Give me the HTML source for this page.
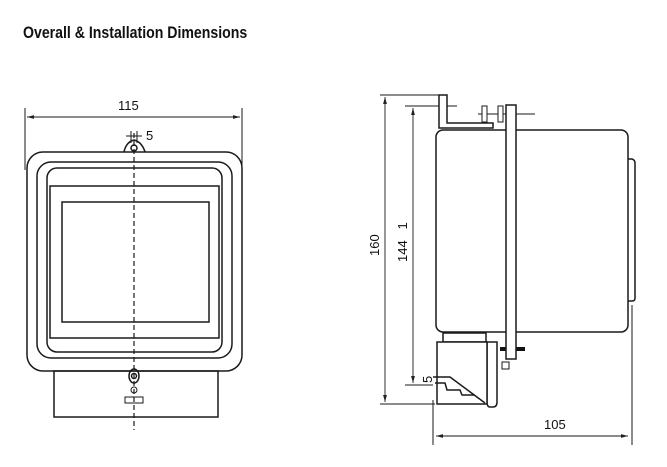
<!DOCTYPE html>
<html><head><meta charset="utf-8"><style>
html,body{margin:0;padding:0;background:#fff;width:667px;height:467px;overflow:hidden}
.t{position:absolute;left:23px;top:23px;font:bold 17px "Liberation Sans",sans-serif;color:#111;transform:scaleX(0.83);transform-origin:0 0;white-space:nowrap}
svg{position:absolute;left:0;top:0}
text{font-family:"Liberation Sans",sans-serif;font-size:13px;fill:#111;stroke:none;white-space:pre}
</style></head><body>
<div class="t">Overall &amp; Installation Dimensions</div>
<svg width="667" height="467" viewBox="0 0 667 467" fill="none" stroke="#1a1a1a" stroke-width="1.5">
<defs><marker id="a" markerWidth="8" markerHeight="6" refX="8" refY="3" orient="auto-start-reverse"><path d="M0,0.8 L8,3 L0,5.2" fill="#222" stroke="none"/></marker></defs>
<!-- front view -->
<line x1="25" y1="108" x2="25" y2="170" stroke-width="1"/>
<line x1="242" y1="108" x2="242" y2="170" stroke-width="1"/>
<line x1="27" y1="117" x2="240" y2="117" stroke-width="0.9" marker-start="url(#a)" marker-end="url(#a)"/>
<text x="118" y="110">115</text>
<path d="M124,152 Q126,142 134,140 Q142,142 145,152" fill="#fff"/>
<circle cx="134" cy="148" r="3"/>
<line x1="126" y1="136" x2="142" y2="136" stroke-width="1"/>
<line x1="131" y1="131" x2="131" y2="143" stroke-width="1"/>
<line x1="137" y1="131" x2="137" y2="143" stroke-width="1"/>
<text x="146" y="140">5</text>
<rect x="27" y="152" width="215" height="219" rx="16" fill="#fff"/>
<rect x="37" y="162" width="195" height="196" rx="14"/>
<rect x="47" y="168" width="175" height="184" rx="10"/>
<rect x="50" y="186" width="169" height="152"/>
<rect x="62" y="202" width="147" height="120"/>
<rect x="54" y="371" width="164" height="46"/>
<ellipse cx="134" cy="376" rx="5" ry="7"/>
<circle cx="134" cy="376" r="2.5"/>
<circle cx="134" cy="390" r="3" stroke-width="1"/>
<rect x="125" y="397" width="18" height="6" stroke-width="1"/>
<line x1="134" y1="133" x2="134" y2="430" stroke-dasharray="5,3" stroke-width="1.2"/>
<!-- side view -->
<line x1="380" y1="95" x2="440" y2="95" stroke-width="1"/>
<line x1="380" y1="404" x2="435" y2="404" stroke-width="1"/>
<line x1="385" y1="97" x2="385" y2="402" stroke-width="0.9" marker-start="url(#a)" marker-end="url(#a)"/>
<line x1="405" y1="106" x2="457" y2="106" stroke-width="1"/>
<line x1="405" y1="385" x2="433" y2="385" stroke-width="1"/>
<line x1="413" y1="108" x2="413" y2="383" stroke-width="0.9" marker-start="url(#a)" marker-end="url(#a)"/>
<text transform="translate(379,256) rotate(-90)">160</text>
<text transform="translate(407,262) rotate(-90)">144   1</text>
<text transform="translate(432,383) rotate(-90)">5</text>
<rect x="436" y="130" width="192" height="202" rx="7" fill="#fff"/>
<path d="M628,159 L632,159 Q635,160 635,163 L635,298 Q635,301 632,301 L628,301"/>
<path d="M439,95 L447,95 L447,123 L493,123 L493,128 L439,128 Z" fill="#fff"/>
<line x1="478" y1="114" x2="535" y2="114" stroke-width="1"/>
<rect x="482" y="106" width="5" height="16" stroke-width="1" fill="#fff"/>
<rect x="498" y="106" width="5" height="16" stroke-width="1" fill="#fff"/>
<rect x="443" y="333" width="43" height="9"/>
<path d="M487,342 L497,342 L497,402 Q497,407 493,407 L490,407 Q487,407 487,402 Z" fill="#fff"/>
<rect x="437" y="342" width="50" height="62" fill="#fff"/>
<path d="M433,377 L450,377 L485,403 M435,383 L445,383 L447,390 L460,390 L462,395 L475,395"/>
<rect x="500" y="347" width="25" height="4" fill="#111" stroke="none"/>
<rect x="506" y="105" width="10" height="254" fill="#fff"/>
<rect x="502" y="362" width="7" height="7" stroke-width="1"/>
<line x1="433" y1="400" x2="433" y2="445" stroke-width="1"/>
<line x1="632" y1="305" x2="632" y2="445" stroke-width="1"/>
<line x1="436" y1="436" x2="628" y2="436" stroke-width="0.9" marker-start="url(#a)" marker-end="url(#a)"/>
<text x="544" y="429">105</text>
</svg>
</body></html>
